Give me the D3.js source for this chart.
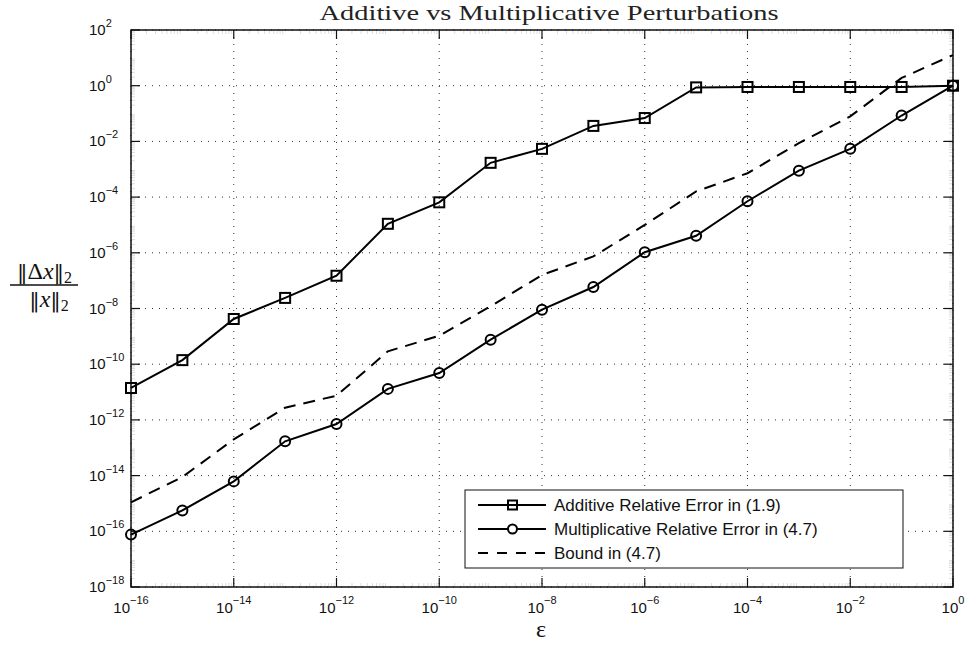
<!DOCTYPE html>
<html>
<head>
<meta charset="utf-8">
<script src="https://cdn.jsdelivr.net/npm/d3@7"></script>
<style>
  body { margin: 0; background: #fff; }
  svg { display: block; }
</style>
</head>
<body>
<svg id="chart" width="966" height="645"></svg>
<script>
// data
const eps = [1e-16, 1e-15, 1e-14, 1e-13, 1e-12, 1e-11, 1e-10, 1e-9, 1e-8,
  1e-7, 1e-6, 1e-5, 1e-4, 1e-3, 1e-2, 1e-1, 1];
const additive = [1.4e-11, 1.4e-10, 4.2e-9, 2.4e-8, 1.5e-7, 1.1e-5, 6.5e-5, 1.7e-3,
  5.4e-3, 3.6e-2, 6.9e-2, 0.87, 0.9, 0.9, 0.9, 0.9, 1.0];
const multiplicative = [7.6e-17, 5.6e-16, 6.2e-15, 1.7e-13, 7.1e-13, 1.3e-11, 4.8e-11,
  7.6e-10, 9.1e-9, 5.9e-8, 1.05e-6, 4.1e-6, 7.1e-5, 8.9e-4, 5.4e-3, 8.5e-2, 1.0];
const bound = [1.1e-15, 8.9e-15, 2.0e-13, 2.75e-12, 7.4e-12, 2.9e-10, 1.05e-9, 1.2e-8,
  1.6e-7, 7.4e-7, 1.0e-5, 1.6e-4, 7.2e-4, 8.7e-3, 7.9e-2, 1.9, 12.6];
const xTickExp = [-16, -14, -12, -10, -8, -6, -4, -2, 0];
const yTickExp = [2, 0, -2, -4, -6, -8, -10, -12, -14, -16, -18];
const legendLabels = ['Additive Relative Error in (1.9)',
  'Multiplicative Relative Error in (4.7)', 'Bound in (4.7)'];

const svg = d3.select('#chart');
const pl = 131, pr = 953, pt = 30, pb = 587;

const x = d3.scaleLog().domain([1e-16, 1]).range([pl, pr]);
const y = d3.scaleLog().domain([1e-18, 1e2]).range([pb, pt]);

const sans = 'Liberation Sans, Arial, Helvetica, sans-serif';
const serif = 'Liberation Serif, Times New Roman, serif';
const minus = (e) => (e < 0 ? '\u2212' + (-e) : String(e));

// grid
const grid = svg.append('g')
  .attr('stroke', '#333')
  .attr('stroke-width', 1)
  .attr('stroke-dasharray', '1,6');
grid.selectAll('.gx').data(xTickExp).enter().append('line')
  .attr('x1', (e) => x(10 ** e)).attr('x2', (e) => x(10 ** e))
  .attr('y1', pt).attr('y2', pb);
grid.selectAll('.gy').data(yTickExp).enter().append('line')
  .attr('y1', (e) => y(10 ** e)).attr('y2', (e) => y(10 ** e))
  .attr('x1', pl).attr('x2', pr);

// minor ticks (2..9 in each decade), faint
const minorX = [];
for (let e = -16; e < 0; e++) for (let k = 2; k < 10; k++) minorX.push(k * 10 ** e);
const minorY = [];
for (let e = -18; e < 2; e++) for (let k = 2; k < 10; k++) minorY.push(k * 10 ** e);
const minor = svg.append('g').attr('stroke', '#bbb').attr('stroke-width', 0.5);
minorX.forEach((v) => {
  minor.append('line').attr('x1', x(v)).attr('x2', x(v)).attr('y1', pb).attr('y2', pb - 4);
  minor.append('line').attr('x1', x(v)).attr('x2', x(v)).attr('y1', pt).attr('y2', pt + 4);
});
minorY.forEach((v) => {
  minor.append('line').attr('y1', y(v)).attr('y2', y(v)).attr('x1', pl).attr('x2', pl + 4);
  minor.append('line').attr('y1', y(v)).attr('y2', y(v)).attr('x1', pr).attr('x2', pr - 4);
});

// major ticks
const major = svg.append('g').attr('stroke', '#111').attr('stroke-width', 1.2);
xTickExp.forEach((e) => {
  const px = x(10 ** e);
  major.append('line').attr('x1', px).attr('x2', px).attr('y1', pb).attr('y2', pb - 9);
  major.append('line').attr('x1', px).attr('x2', px).attr('y1', pt).attr('y2', pt + 9);
});
yTickExp.forEach((e) => {
  const py = y(10 ** e);
  major.append('line').attr('y1', py).attr('y2', py).attr('x1', pl).attr('x2', pl + 9);
  major.append('line').attr('y1', py).attr('y2', py).attr('x1', pr).attr('x2', pr - 9);
});

// box
svg.append('rect')
  .attr('x', pl).attr('y', pt)
  .attr('width', pr - pl).attr('height', pb - pt)
  .attr('fill', 'none').attr('stroke', '#111').attr('stroke-width', 1.5);

// tick labels
const xl = svg.selectAll('.xl').data(xTickExp).enter().append('text')
  .attr('x', (e) => x(10 ** e)).attr('y', 613)
  .attr('text-anchor', 'middle')
  .attr('font-family', sans).attr('font-size', 15).attr('fill', '#111');
xl.append('tspan').text('10');
xl.append('tspan').attr('dy', -9).attr('font-size', 11).text((e) => minus(e));

const yl = svg.selectAll('.yl').data(yTickExp).enter().append('text')
  .attr('x', 89).attr('y', (e) => y(10 ** e) + 5)
  .attr('font-family', sans).attr('font-size', 15).attr('fill', '#111');
yl.append('tspan').text('10');
yl.append('tspan').attr('dy', -8).attr('font-size', 11).text((e) => minus(e));

// series
const pts = (vals) => eps.map((e, i) => [e, vals[i]]);
const line = d3.line().x((d) => x(d[0])).y((d) => y(d[1]));

svg.append('path').datum(pts(bound))
  .attr('d', line).attr('fill', 'none')
  .attr('stroke', '#000').attr('stroke-width', 2)
  .attr('stroke-dasharray', '12,8');

svg.append('path').datum(pts(multiplicative))
  .attr('d', line).attr('fill', 'none')
  .attr('stroke', '#000').attr('stroke-width', 2);
svg.selectAll('.circ').data(pts(multiplicative)).enter().append('circle')
  .attr('cx', (d) => x(d[0])).attr('cy', (d) => y(d[1])).attr('r', 5)
  .attr('fill', 'none').attr('stroke', '#000').attr('stroke-width', 2);

svg.append('path').datum(pts(additive))
  .attr('d', line).attr('fill', 'none')
  .attr('stroke', '#000').attr('stroke-width', 2);
svg.selectAll('.sq').data(pts(additive)).enter().append('rect')
  .attr('x', (d) => x(d[0]) - 5).attr('y', (d) => y(d[1]) - 5)
  .attr('width', 10).attr('height', 10)
  .attr('fill', 'none').attr('stroke', '#000').attr('stroke-width', 2);

// title
svg.append('text')
  .attr('x', 549).attr('y', 20)
  .attr('text-anchor', 'middle')
  .attr('font-family', serif).attr('font-size', 21)
  .attr('textLength', 459).attr('lengthAdjust', 'spacingAndGlyphs')
  .attr('fill', '#222')
  .text('Additive vs Multiplicative Perturbations');

// x label
svg.append('text')
  .attr('x', 541).attr('y', 637)
  .attr('text-anchor', 'middle')
  .attr('font-family', serif).attr('font-size', 24).attr('fill', '#111')
  .text('\u03b5');

// y label (fraction)
const bars = 'DejaVu Serif, serif';
const frac = svg.append('g').attr('font-family', serif).attr('fill', '#111');
const num = frac.append('text').attr('x', 44.5).attr('y', 279)
  .attr('text-anchor', 'middle').attr('font-size', 24);
num.append('tspan').attr('font-family', bars).attr('font-size', 21).text('\u2016');
num.append('tspan').text('\u0394');
num.append('tspan').attr('font-style', 'italic').text('x');
num.append('tspan').attr('font-family', bars).attr('font-size', 21).text('\u2016');
num.append('tspan').attr('dy', 4).attr('font-size', 16).text('2');
frac.append('line')
  .attr('x1', 10).attr('x2', 78).attr('y1', 285).attr('y2', 285)
  .attr('stroke', '#111').attr('stroke-width', 1.5);
const den = frac.append('text').attr('x', 49).attr('y', 307)
  .attr('text-anchor', 'middle').attr('font-size', 24);
den.append('tspan').attr('font-family', bars).attr('font-size', 21).text('\u2016');
den.append('tspan').attr('font-style', 'italic').text('x');
den.append('tspan').attr('font-family', bars).attr('font-size', 21).text('\u2016');
den.append('tspan').attr('dy', 4).attr('font-size', 16).text('2');

// legend
const lg = svg.append('g');
lg.append('rect')
  .attr('x', 465).attr('y', 490).attr('width', 438).attr('height', 78)
  .attr('fill', '#fff').attr('stroke', '#111').attr('stroke-width', 1);
const rows = lg.selectAll('.row').data(legendLabels).enter().append('g')
  .attr('transform', (d, i) => `translate(0,${505 + i * 24})`);
rows.append('line')
  .attr('x1', 478).attr('x2', 546).attr('y1', 0).attr('y2', 0)
  .attr('stroke', '#000').attr('stroke-width', 2)
  .attr('stroke-dasharray', (d, i) => (i === 2 ? '10,9' : null));
rows.append('text')
  .attr('x', 554).attr('y', 6)
  .attr('font-family', sans).attr('font-size', 17).attr('fill', '#111')
  .text((d) => d);
rows.filter((d, i) => i === 0).append('rect')
  .attr('x', 508).attr('y', -4.5).attr('width', 9).attr('height', 9)
  .attr('fill', 'none').attr('stroke', '#000').attr('stroke-width', 2);
rows.filter((d, i) => i === 1).append('circle')
  .attr('cx', 512.5).attr('cy', 0).attr('r', 4.5)
  .attr('fill', '#fff').attr('stroke', '#000').attr('stroke-width', 2);
</script>
</body>
</html>
